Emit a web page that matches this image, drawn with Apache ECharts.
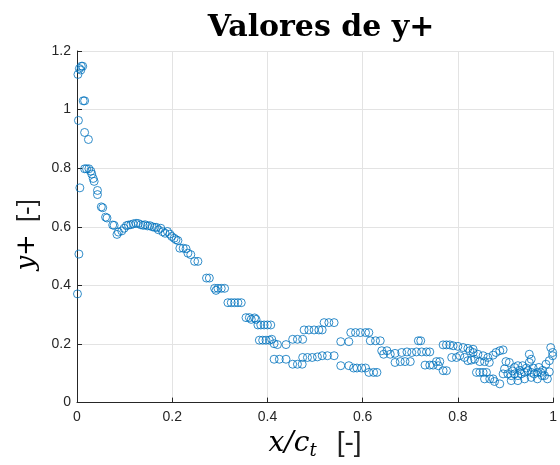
<!DOCTYPE html>
<html><head><meta charset="utf-8">
<script src="https://cdn.jsdelivr.net/npm/echarts@6/dist/echarts.min.js"></script>
<style>html,body{margin:0;padding:0;background:#fff}#c{width:560px;height:465px}</style>
</head><body><div id="c"></div>
<script>
const titleText = 'Valores de y+';
const xTicks = [0, 0.2, 0.4, 0.6, 0.8, 1];
const yTicks = [0, 0.2, 0.4, 0.6, 0.8, 1, 1.2];
const xs = [
0.001,0.004,0.006,0.003,0.002,0.005,0.009,0.012,0.008,0.013,0.016,0.016,0.024,0.016,0.020,0.025,0.029,0.031,0.034,0.036,
0.043,0.043,0.051,0.054,0.060,0.063,0.075,0.078,0.084,0.087,0.094,0.099,0.104,0.108,0.113,0.118,0.124,0.129,0.134,0.139,
0.143,0.148,0.153,0.158,0.163,0.167,0.171,0.176,0.180,0.185,0.190,0.195,0.199,0.204,0.208,0.212,0.216,0.223,0.229,0.233,
0.239,0.247,0.254,0.272,0.278,0.289,0.296,0.303,0.310,0.292,0.317,0.324,0.331,0.338,0.345,0.355,0.362,0.366,0.373,0.376,
0.380,0.386,0.393,0.400,0.407,0.383,0.390,0.397,0.404,0.409,0.414,0.421,0.439,0.453,0.463,0.474,0.477,0.487,0.498,0.508,
0.515,0.519,0.529,0.540,0.414,0.425,0.439,0.453,0.463,0.473,0.474,0.484,0.494,0.505,0.515,0.526,0.540,0.554,0.571,0.575,
0.585,0.595,0.606,0.613,0.616,0.627,0.637,0.554,0.571,0.581,0.588,0.598,0.606,0.613,0.623,0.630,0.640,0.651,0.644,0.658,
0.668,0.682,0.693,0.703,0.713,0.724,0.734,0.741,0.668,0.679,0.689,0.700,0.717,0.722,0.731,0.741,0.748,0.755,0.762,0.759,
0.769,0.776,0.769,0.776,0.783,0.790,0.800,0.811,0.821,0.832,0.787,0.797,0.804,0.814,0.821,0.828,0.835,0.825,0.832,0.842,
0.853,0.863,0.874,0.880,0.888,0.846,0.856,0.866,0.839,0.846,0.853,0.860,0.856,0.867,0.874,0.877,0.888,0.895,0.901,0.908,
0.905,0.912,0.919,0.926,0.933,0.940,0.947,0.954,0.960,0.967,0.974,0.982,0.988,0.919,0.926,0.936,0.950,0.954,0.950,0.985,
0.992,0.999,0.999,0.912,0.926,0.940,0.954,0.967,0.977,0.995,0.930,0.944,0.958,0.970,0.978,0.992,0.898,0.915,0.895
];
const ys = [
0.371,0.507,0.733,0.963,1.120,1.140,1.148,1.148,1.135,1.030,1.030,0.922,0.898,0.798,0.798,0.798,0.790,0.780,0.765,0.755,
0.724,0.710,0.668,0.665,0.633,0.630,0.606,0.605,0.574,0.582,0.586,0.595,0.604,0.606,0.607,0.610,0.612,0.611,0.607,0.605,
0.607,0.603,0.604,0.600,0.598,0.598,0.590,0.595,0.583,0.578,0.584,0.575,0.567,0.561,0.556,0.553,0.527,0.527,0.525,0.510,
0.505,0.482,0.482,0.425,0.425,0.390,0.390,0.390,0.390,0.383,0.341,0.341,0.341,0.341,0.341,0.290,0.290,0.284,0.289,0.284,
0.265,0.265,0.265,0.265,0.265,0.213,0.213,0.213,0.213,0.216,0.201,0.198,0.198,0.216,0.216,0.216,0.248,0.248,0.248,0.248,
0.248,0.273,0.273,0.273,0.148,0.148,0.148,0.131,0.131,0.131,0.154,0.154,0.154,0.156,0.160,0.160,0.160,0.208,0.208,0.239,
0.239,0.239,0.239,0.239,0.211,0.211,0.211,0.126,0.126,0.118,0.118,0.118,0.118,0.103,0.103,0.103,0.177,0.177,0.165,0.165,
0.168,0.171,0.173,0.171,0.173,0.173,0.173,0.173,0.137,0.140,0.140,0.140,0.211,0.211,0.128,0.128,0.128,0.140,0.140,0.126,
0.109,0.109,0.197,0.197,0.197,0.194,0.192,0.188,0.185,0.182,0.154,0.154,0.160,0.154,0.143,0.145,0.148,0.177,0.171,0.165,
0.160,0.154,0.162,0.171,0.177,0.140,0.140,0.137,0.103,0.103,0.103,0.103,0.081,0.081,0.081,0.072,0.064,0.098,0.140,0.137,
0.098,0.092,0.098,0.092,0.098,0.103,0.109,0.103,0.098,0.103,0.103,0.092,0.081,0.120,0.126,0.126,0.137,0.148,0.165,0.131,
0.143,0.171,0.160,0.075,0.075,0.081,0.086,0.081,0.092,0.188,0.110,0.118,0.118,0.120,0.110,0.105,0.115,0.108,0.180
];
const points = xs.map((x, i) => [x, ys[i]]);
const axisColor = '#262626';
const chart = echarts.init(document.getElementById('c'));
chart.setOption({
  animation: false,
  backgroundColor: '#ffffff',
  title: {
    text: titleText, left: 316, top: 8, textAlign: 'center',
    textStyle: { fontFamily: 'DejaVu Serif', fontWeight: 'bold', fontSize: 30, color: '#000' }
  },
  grid: { left: 77, right: 5, top: 51, bottom: 60 },
  xAxis: {
    type: 'value', min: 0, max: 1, interval: 0.2,
    name: '{i|x/c}{sub|t}{sp| }{s|[-]}', nameLocation: 'middle', nameGap: 24,
    nameTextStyle: { rich: {
      i: { fontFamily: 'DejaVu Serif', fontStyle: 'italic', fontSize: 28, color: '#000' },
      sub: { fontFamily: 'DejaVu Serif', fontStyle: 'italic', fontSize: 18, color: '#000', padding: [15, 0, 0, 0] },
      sp: { fontSize: 20, width: 20 },
      s: { fontFamily: 'Liberation Sans', fontSize: 28, color: '#222' }
    } },
    axisLine: { show: true, lineStyle: { color: axisColor, width: 1 } },
    axisTick: { show: true, inside: true, length: 5, lineStyle: { color: axisColor } },
    axisLabel: { color: axisColor, fontFamily: 'Liberation Sans', fontSize: 14, margin: 8,
      formatter: v => String(xTicks.find(t => Math.abs(t - v) < 1e-9) ?? v) },
    splitLine: { show: true, lineStyle: { color: '#e3e3e3', width: 1 } }
  },
  yAxis: {
    type: 'value', min: 0, max: 1.2, interval: 0.2,
    name: '{i|y}{n|+}{sp| }{s|[-]}{pad| }', nameLocation: 'middle', nameGap: 26, nameRotate: 90,
    nameTextStyle: { rich: {
      i: { fontFamily: 'DejaVu Serif', fontStyle: 'italic', fontSize: 26, color: '#000' },
      n: { fontFamily: 'DejaVu Serif', fontSize: 26, color: '#000' },
      sp: { fontSize: 20, width: 12 },
      s: { fontFamily: 'Liberation Sans', fontSize: 26, color: '#222' },
      pad: { fontSize: 20, width: 16 }
    } },
    axisLine: { show: true, lineStyle: { color: axisColor, width: 1 } },
    axisTick: { show: true, inside: true, length: 5, lineStyle: { color: axisColor } },
    axisLabel: { color: axisColor, fontFamily: 'Liberation Sans', fontSize: 14, margin: 6,
      formatter: v => String(yTicks.find(t => Math.abs(t - v) < 1e-9) ?? v) },
    splitLine: { show: true, lineStyle: { color: '#e3e3e3', width: 1 } }
  },
  series: [{
    type: 'scatter', data: points, symbol: 'circle', symbolSize: 8,
    itemStyle: { color: 'rgba(0,0,0,0)', borderColor: '#0072BD', borderWidth: 1 },
    emphasis: { disabled: true }
  }]
});
</script></body></html>
